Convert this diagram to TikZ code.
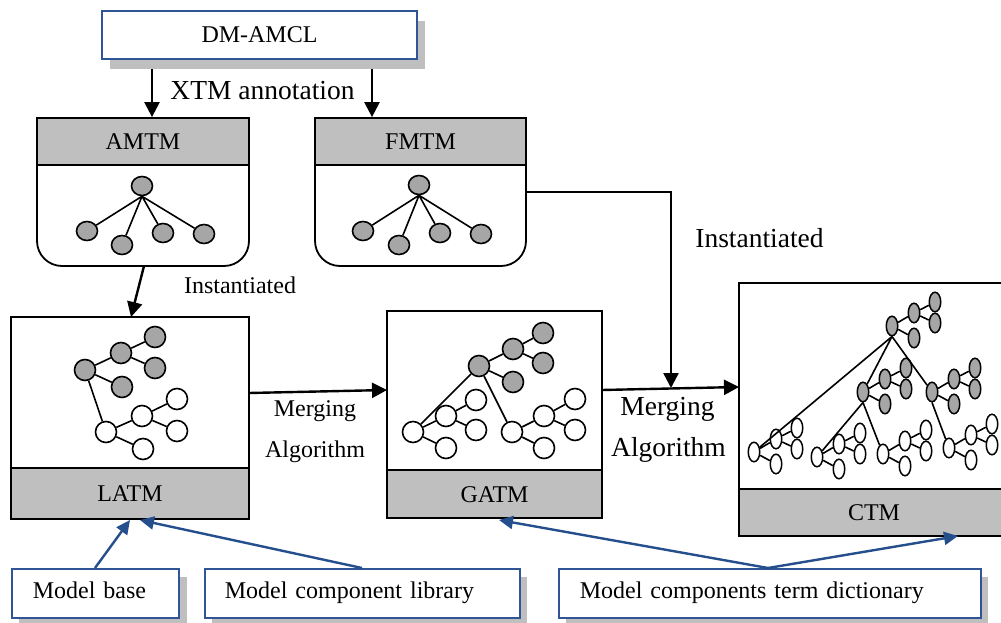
\documentclass[tikz,border=0pt]{standalone}
\usepackage{fontspec}
\setmainfont{Liberation Serif}
\usetikzlibrary{shapes.geometric,arrows.meta}
\definecolor{hdrgray}{RGB}{191,191,191}
\definecolor{nodegray}{RGB}{166,166,166}
\definecolor{shadowgray}{RGB}{191,191,191}
\definecolor{bluebrd}{RGB}{47,85,151}
\definecolor{bluearw}{RGB}{37,78,140}

\newcommand\ctmsub[4]{%
  \begin{scope}[shift={(#2,#3)}]
    \node[#4] (#1) at (0,0) {};
    \node[#4] (#1u) at (22,-13) {};
    \node[#4] (#1ua) at (43,-24) {};
    \node[#4] (#1ub) at (43,-3) {};
    \node[#4] (#1l) at (22,12) {};
  \end{scope}
  \draw[tline] (#1) -- (#1u) (#1) -- (#1l) (#1u) -- (#1ua) (#1u) -- (#1ub);
}

\begin{document}
\begin{tikzpicture}[x=1pt,y=-1pt,
  lbl/.style={font=\fontsize{24}{28}\selectfont, inner sep=0pt},
  big/.style={font=\fontsize{27.5}{32}\selectfont, inner sep=0pt},
  box/.style={draw=black, line width=1.8pt, fill=white, inner sep=0pt},
  hdr/.style={draw=black, line width=1.8pt, fill=hdrgray, inner sep=0pt, font=\fontsize{24}{28}\selectfont, text height=16pt, text depth=0pt},
  tline/.style={line width=1.6pt},
  ge/.style={ellipse, draw=black, line width=1.6pt, fill=nodegray, minimum width=21pt, minimum height=19pt, inner sep=0pt},
  gn/.style={circle, draw=black, line width=1.6pt, fill=nodegray, minimum size=21pt, inner sep=0pt},
  wn/.style={circle, draw=black, line width=1.6pt, fill=white, minimum size=21pt, inner sep=0pt},
  cg/.style={ellipse, draw=black, line width=1.5pt, fill=nodegray, minimum width=11.5pt, minimum height=19.5pt, inner sep=0pt},
  cw/.style={ellipse, draw=black, line width=1.5pt, fill=white, minimum width=11.5pt, minimum height=19.5pt, inner sep=0pt},
  arr/.style={line width=2.4pt, -{Triangle[length=15pt,width=15pt]}},
  barr/.style={draw=bluearw, line width=2.4pt, -{Triangle[length=14pt,width=13pt]}},
  bbox/.style={draw=bluebrd, line width=1.6pt, fill=white, inner ysep=0pt, align=left, font=\fontsize{24}{28}\selectfont, text height=16pt, text depth=5pt, minimum height=49pt, anchor=north west},
  shadow/.style={fill=shadowgray}
]
\useasboundingbox (0,0) rectangle (1001,623);
\clip (0,0) rectangle (1001,623);

% ---------- DM-AMCL ----------
\fill[shadow] (110,21) rectangle (425,69);
\node[draw=bluebrd, line width=1.6pt, fill=white, minimum width=315pt, minimum height=48pt, inner sep=0pt,
      font=\fontsize{24}{28}\selectfont, text height=16pt, text depth=0pt] (dm) at (259.5,35) {DM-AMCL};
\coordinate (dmL) at (152,69);
\coordinate (dmR) at (372,69);

% ---------- AMTM ----------
\draw[line width=1.8pt, rounded corners=25pt] (37,165) -- (37,266) -- (249,266) -- (249,165);
\node[hdr, minimum width=212pt, minimum height=47pt] (amtm) at (143,141.5) {AMTM};
\node[ge] (ar) at (142,186) {};
\node[ge] (ac1) at (87,231) {};
\node[ge] (ac2) at (122,245) {};
\node[ge] (ac3) at (163,233) {};
\node[ge] (ac4) at (204,234) {};
\draw[tline] (ar.south) -- (ac1) (ar.south) -- (ac2) (ar.south) -- (ac3) (ar.south) -- (ac4);

% ---------- FMTM ----------
\draw[line width=1.8pt, rounded corners=25pt] (315,165) -- (315,266) -- (526,266) -- (526,165);
\node[hdr, minimum width=211pt, minimum height=47pt] (fmtm) at (420.5,141.5) {FMTM};
\node[ge] (fr) at (419,185) {};
\node[ge] (fc1) at (363,231) {};
\node[ge] (fc2) at (399,245) {};
\node[ge] (fc3) at (440,233) {};
\node[ge] (fc4) at (481,234) {};
\draw[tline] (fr.south) -- (fc1) (fr.south) -- (fc2) (fr.south) -- (fc3) (fr.south) -- (fc4);

% arrows from DM-AMCL
\draw[arr] (dmL) -- (dmL |- amtm.north);
\draw[arr] (dmR) -- (dmR |- fmtm.north);
\node[big, anchor=base] (xtm) at (262.5,100) {XTM annotation};

% ---------- LATM ----------
\node[box, minimum width=238pt, minimum height=202pt] (latm) at (130,418) {};
\node[hdr, minimum width=238pt, minimum height=51pt, anchor=south] (latml) at (latm.south) {LATM};
\node[gn] (la) at (85,370) {};
\node[gn] (lb) at (121,353) {};
\node[gn] (lc) at (155,337) {};
\node[gn] (ld) at (155,368) {};
\node[gn] (le) at (122,387) {};
\node[wn] (lf) at (106,432) {};
\node[wn] (lg) at (142,416) {};
\node[wn] (lh) at (177,399) {};
\node[wn] (li) at (177,431) {};
\node[wn] (lj) at (143,449) {};
\draw[tline] (la) -- (lb) (lb) -- (lc) (lb) -- (ld) (la) -- (le) (la) -- (lf)
             (lf) -- (lg) (lg) -- (lh) (lg) -- (li) (lf) -- (lj);

% Instantiated (left)
\coordinate (amB) at (144,266);
\coordinate (laT) at (131,317);
\draw[arr] (amB) -- (laT);
\node[lbl, anchor=base] (inst1) at (240,293) {Instantiated};

% ---------- GATM ----------
\node[box, minimum width=215pt, minimum height=207pt] (gatm) at (494.5,414.5) {};
\node[hdr, minimum width=215pt, minimum height=48pt, anchor=south] (gatml) at (gatm.south) {GATM};
\node[gn] (gr) at (479,366) {};
\node[gn] (gu) at (513,349) {};
\node[gn] (gua) at (543,333) {};
\node[gn] (gub) at (543,363) {};
\node[gn] (gl) at (513,382) {};
\node[wn] (wa) at (413,432) {};
\node[wn] (wau) at (446,416) {};
\node[wn] (waua) at (476,400) {};
\node[wn] (waub) at (476,430) {};
\node[wn] (wal) at (446,448) {};
\node[wn] (wb) at (512,432) {};
\node[wn] (wbu) at (544,416) {};
\node[wn] (wbua) at (575,399) {};
\node[wn] (wbub) at (575,430) {};
\node[wn] (wbl) at (544,448) {};
\draw[tline] (gr) -- (gu) (gu) -- (gua) (gu) -- (gub) (gr) -- (gl)
             (gr) -- (wa) (gr) -- (wb)
             (wa) -- (wau) (wau) -- (waua) (wau) -- (waub) (wa) -- (wal)
             (wb) -- (wbu) (wbu) -- (wbua) (wbu) -- (wbub) (wb) -- (wbl);

% Merging 1
\coordinate (m1s) at (249,393);
\coordinate (m1e) at (387,390);
\draw[arr] (m1s) -- (m1e);
\node[lbl, anchor=base] (mg1a) at (315,416) {Merging};
\node[lbl, anchor=base] (mg1b) at (315,457) {Algorithm};

% ---------- CTM ----------
\node[box, minimum width=270pt, minimum height=253pt] (ctm) at (874,409.5) {};
\node[hdr, minimum width=270pt, minimum height=47pt, anchor=south] (ctml) at (ctm.south) {CTM};
\ctmsub{t0}{892}{326}{cg}
\ctmsub{t1}{863}{392}{cg}
\ctmsub{t2}{932}{392}{cg}
\ctmsub{s1}{754}{452}{cw}
\ctmsub{s2}{817}{457}{cw}
\ctmsub{s3}{883}{454}{cw}
\ctmsub{s4}{949}{448}{cw}
\draw[tline] (t0.south) -- (t1) (t0.south) -- (t2) (t0.south) -- (s1)
             (t1.south) -- (s2) (t1.south) -- (s3) (t2.south) -- (s4);

% Merging 2 and FMTM instantiated line
\coordinate (m2s) at (602,390);
\coordinate (m2e) at (739,387);
\draw[arr] (m2s) -- (m2e);
\coordinate (fmR) at (526,192);
\coordinate (fmC) at (671,192);
\coordinate (m2t) at (671,388);
\draw[arr] (fmR) -- (fmC) -- (m2t);
\node[big, anchor=base] (inst2) at (759.5,247) {Instantiated};
\node[big, anchor=base] (mg2a) at (667.5,415) {Merging};
\node[big, anchor=base] (mg2b) at (668.5,456.5) {Algorithm};

% ---------- bottom boxes ----------
\fill[shadow] (19,577) rectangle (187,626);
\fill[shadow] (212,577) rectangle (527,626);
\fill[shadow] (566,577) rectangle (988,626);
\node[bbox, text width=125pt, inner xsep=21pt] (mb) at (11,568) {Model base};
\node[bbox, text width=275pt, inner xsep=20pt] (mcl) at (204,568) {Model component library};
\node[bbox, text width=380pt, inner xsep=21pt] (mctd) at (558,568) {Model components term dictionary};

\coordinate (mbT) at (95,568);
\coordinate (mclT) at (362,568);
\coordinate (mctdT) at (768,568);
\coordinate (laB1) at (130,520);
\coordinate (laB2) at (140,520);
\coordinate (gaB) at (499,520);
\coordinate (ctB) at (958,536);
\draw[barr] (mbT) -- (laB1);
\draw[barr] (mclT) -- (laB2);
\draw[barr] (mctdT) -- (gaB);
\draw[barr] (mctdT) -- (ctB);
\end{tikzpicture}
\end{document}
